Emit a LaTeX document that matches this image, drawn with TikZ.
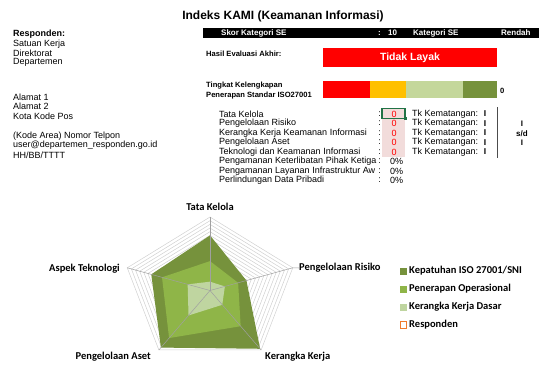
\documentclass[tikz,border=0pt]{standalone}
\usepackage{fontspec}
\setmainfont{Liberation Sans}
\newfontfamily\calfont{Carlito}
\definecolor{kred}{HTML}{FF0000}
\definecolor{korange}{HTML}{FFC000}
\definecolor{klightbar}{HTML}{C4D79B}
\definecolor{kdark}{HTML}{76923C}
\definecolor{kmed}{HTML}{8FB548}
\definecolor{klt}{HTML}{BFD5A0}
\definecolor{kpink}{HTML}{F2DCDB}
\definecolor{selgreen}{HTML}{217346}
\definecolor{gridc}{HTML}{D0D0D0}
\definecolor{spokec}{HTML}{A0A0A0}
\definecolor{legorange}{HTML}{F07C2E}
\begin{document}
\begin{tikzpicture}[x=1pt,y=-1pt,
  font=\fontsize{9}{10}\selectfont,
  lbl/.style={inner sep=0pt, anchor=west},
  lblc/.style={inner sep=0pt},
  barfont/.style={font=\bfseries\fontsize{8}{9}\selectfont, text=white},
  smallbold/.style={font=\bfseries\fontsize{7.6}{9}\selectfont},
  chartlbl/.style={inner sep=0pt, font=\calfont\bfseries\fontsize{10.5}{12}\selectfont},
  gridline/.style={draw=gridc, line width=0.5pt},
  spoke/.style={draw=spokec, line width=0.5pt}]
\useasboundingbox (0,0) rectangle (540,365);

% title
\node[lblc, font=\bfseries\fontsize{12}{14}\selectfont] (title) at (283,16) {Indeks KAMI (Keamanan Informasi)};

% black bar
\fill[black] (203,28) rectangle (539,38);
\node[lbl, barfont] (skor) at (221,33) {Skor Kategori SE};
\node[lbl, barfont] (skorcolon) at (378,33) {:};
\node[lbl, barfont] (skorval) at (388,33) {10};
\node[lbl, barfont] (kat) at (413,33) {Kategori SE};
\node[lbl, barfont] (katval) at (501,33) {Rendah};

% hasil
\node[lbl, smallbold] (hasil) at (206,53.5) {Hasil Evaluasi Akhir:};
\fill[kred] (323,48) rectangle (497,67);
\node[lblc, font=\bfseries\fontsize{10.5}{12}\selectfont, text=white] (tidak) at (410,57.5) {Tidak Layak};

% tingkat
\node[lbl, smallbold] (ting1) at (206,85.5) {Tingkat Kelengkapan};
\node[lbl, smallbold] (ting2) at (206,96) {Penerapan Standar ISO27001};
\fill[kred] (323,81) rectangle (370,98);
\fill[korange] (370,81) rectangle (406,98);
\fill[klightbar] (406,81) rectangle (463,98);
\fill[kdark] (463,81) rectangle (497,98);
\node[lbl, smallbold] (tingval) at (500,91) {0};

% rows
\fill[kpink] (382,109) rectangle (405,157);
\foreach \i/\t in {0/Tata Kelola,1/Pengelolaan Risiko,2/Kerangka Kerja Keamanan Informasi,3/Pengelolaan Aset,4/Teknologi dan Keamanan Informasi,5/Pengamanan Keterlibatan Pihak Ketiga,6/Pengamanan Layanan Infrastruktur Aw,7/Perlindungan Data Pribadi}{
  \node[lbl] (row\i) at (219,{114+9.5*\i}) {\t};
  \node[lblc] (col\i) at (379.5,{114+9.5*\i}) {:};
}
\foreach \i in {0,...,4}{
  \node[lblc, text=kred] (val\i) at (394,{114+9.5*\i}) {0};
  \node[lbl] (tk\i) at (412,{114+9.5*\i}) {Tk Kematangan:};
  \node[lblc, font=\bfseries\fontsize{8.5}{10}\selectfont] (lv\i) at (485,{114+9.5*\i}) {I};
}
\foreach \i in {5,6,7}{
  \node[lbl] (pct\i) at (390,{114+9.5*\i}) {0\%};
}
\draw[selgreen, line width=1.1pt] (382,108.5) rectangle (405,118.5);
\fill[selgreen] (403.8,117.3) rectangle (406.6,120.1);
\draw[black!70, line width=0.6pt] (497,107) -- (497,158);
\node[lblc, font=\bfseries\fontsize{8}{9}\selectfont] (r1) at (522,124) {I};
\node[lblc, font=\bfseries\fontsize{8}{9}\selectfont] (r2) at (522,134) {s/d};
\node[lblc, font=\bfseries\fontsize{8}{9}\selectfont] (r3) at (522,143) {I};

% left column
\node[lbl, font=\bfseries\fontsize{9}{10}\selectfont] (resp) at (13,34) {Responden:};
\node[lbl] (l1) at (13,44) {Satuan Kerja};
\node[lbl] (l2) at (13,53) {Direktorat};
\node[lbl] (l3) at (13,62) {Departemen};
\node[lbl] (l4) at (13,97) {Alamat 1};
\node[lbl] (l5) at (13,106.5) {Alamat 2};
\node[lbl] (l6) at (13,116) {Kota Kode Pos};
\node[lbl] (l7) at (13,136) {(Kode Area) Nomor Telpon};
\node[lbl] (l8) at (13,145.5) {user@departemen\_responden.go.id};
\node[lbl] (l9) at (13,155) {HH/BB/TTTT};

% radar chart
\begin{scope}[shift={(210,290.5)}, x=87pt, y=73.5pt]
  \foreach \r in {0.05,0.1,...,1.01}{
    \draw[gridline] (90:\r) -- (18:\r) -- (-54:\r) -- (-126:\r) -- (162:\r) -- cycle;
  }
  \fill[kdark] (90:0.75) -- (18:0.44) -- (-54:0.98) -- (-126:0.96) -- (162:0.71) -- cycle;
  \fill[kmed] (90:0.40) -- (18:0.34) -- (-54:0.60) -- (-126:0.80) -- (162:0.58) -- cycle;
  \fill[klt] (90:0.12) -- (18:0.18) -- (-54:0.24) -- (-126:0.42) -- (162:0.27) -- cycle;
  \coordinate (c0) at (0,0);
  \coordinate (a1) at (90:1);
  \coordinate (a2) at (18:1);
  \coordinate (a3) at (-54:1);
  \coordinate (a4) at (-126:1);
  \coordinate (a5) at (162:1);
  \foreach \a in {a1,a2,a3,a4,a5}{ \draw[spoke] (c0) -- (\a); }
\end{scope}
\node[chartlbl] (tTK) at (210,207) {Tata Kelola};
\node[chartlbl, anchor=west] (tPR) at (299,268) {Pengelolaan Risiko};
\node[chartlbl, anchor=west] (tKK) at (265,357) {Kerangka Kerja};
\node[chartlbl, anchor=east] (tPA) at (151,357) {Pengelolaan Aset};
\node[chartlbl, anchor=east] (tAT) at (120,269) {Aspek Teknologi};
\draw[spoke] (a2) -- (tPR.west);

% legend
\fill[kdark] (400,267.5) rectangle (407,274.5);
\fill[kmed] (400,285.5) rectangle (407,292.5);
\fill[klt] (400,303.5) rectangle (407,310.5);
\draw[legorange, line width=1.3pt, fill=white] (400.7,321.7) rectangle (406.3,328.3);
\node[chartlbl, anchor=west] (lg1) at (409,271) {Kepatuhan ISO 27001/SNI};
\node[chartlbl, anchor=west] (lg2) at (409,289) {Penerapan Operasional};
\node[chartlbl, anchor=west] (lg3) at (409,307) {Kerangka Kerja Dasar};
\node[chartlbl, anchor=west] (lg4) at (409,325) {Responden};
\end{tikzpicture}
\end{document}
